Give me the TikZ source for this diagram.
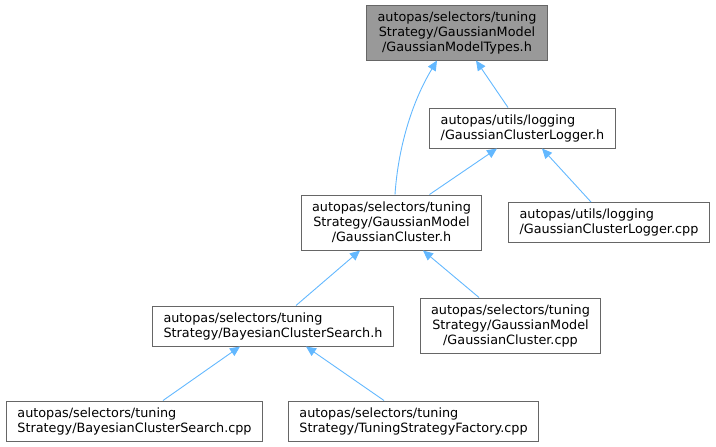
\documentclass[tikz,border=0pt]{standalone}
\usepackage{fontspec}
\setmainfont{DejaVu Sans}
\usepackage{tikz}
\usetikzlibrary{arrows.meta}
\definecolor{boxgray}{HTML}{666666}
\definecolor{topfill}{HTML}{999999}
\definecolor{edgeblue}{HTML}{63B8FF}

\begin{document}
\begin{tikzpicture}[x=1pt, y=-1pt,
    file/.style={rectangle, draw=boxgray, line width=1pt, inner xsep=11pt, inner ysep=0pt,
                 font=\fontsize{12.8}{15}\selectfont, minimum height=40pt},
    tall/.style={file, align=center, minimum height=55pt},
    wide/.style={file, align=left},
    edge/.style={draw=edgeblue, line width=0.9pt, -{Triangle[length=10pt, width=9pt]}}]
                    \useasboundingbox (0,0) rectangle (716,447);
                    % Nodes
                    \node[tall, fill=topfill] (types) at (457,32.5) {autopas/selectors/tuning\\Strategy/GaussianModel\\/GaussianModelTypes.h};
                    \node[wide] (loggerh) at (522.5,128) {autopas/utils/logging\\/GaussianClusterLogger.h};
                    \node[tall] (clusterh) at (391.5,222.5) {autopas/selectors/tuning\\Strategy/GaussianModel\\/GaussianCluster.h};
                    \node[wide] (loggercpp) at (609,222.5) {autopas/utils/logging\\/GaussianClusterLogger.cpp};
                    \node[wide] (searchh) at (273,326) {autopas/selectors/tuning\\Strategy/BayesianClusterSearch.h};
                    \node[tall] (clustercpp) at (510.5,325.5) {autopas/selectors/tuning\\Strategy/GaussianModel\\/GaussianCluster.cpp};
                    \node[wide] (searchcpp) at (134.5,421) {autopas/selectors/tuning\\Strategy/BayesianClusterSearch.cpp};
                    \node[wide] (factory) at (413.5,421) {autopas/selectors/tuning\\Strategy/TuningStrategyFactory.cpp};
                    % Edges
                    \draw[edge] ([xshift=3.5pt]clusterh.north) .. controls +(3,-45) and +(-26,43) .. ([xshift=-20pt]types.south);
                    \draw[edge] ([xshift=-14.5pt]loggerh.north) -- ([xshift=19pt]types.south);
                    \draw[edge] ([xshift=38pt]clusterh.north) -- ([xshift=-25.5pt]loggerh.south);
                    \draw[edge] ([xshift=-18pt]loggercpp.north) -- ([xshift=19.5pt]loggerh.south);
                    \draw[edge] ([xshift=23pt]searchh.north) -- ([xshift=-31.5pt]clusterh.south);
                    \draw[edge] ([xshift=-31.5pt]clustercpp.north) -- ([xshift=31.5pt]clusterh.south);
                    \draw[edge] ([xshift=28.5pt]searchcpp.north) -- ([xshift=-33pt]searchh.south);
                    \draw[edge] ([xshift=-29.5pt]factory.north) -- ([xshift=33pt]searchh.south);
                \end{tikzpicture}
\end{document}
